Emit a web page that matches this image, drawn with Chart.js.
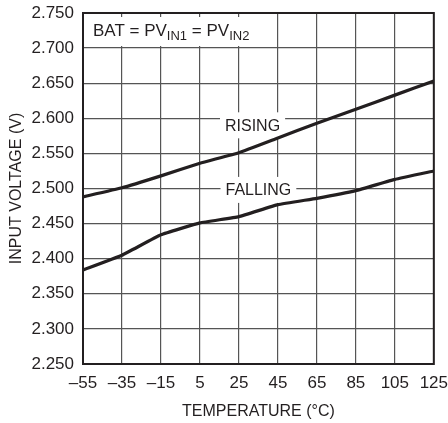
<!DOCTYPE html>
<html>
<head>
<meta charset="utf-8">
<script src="https://cdn.jsdelivr.net/npm/chart.js@4"></script>
<style>
  html, body { margin: 0; padding: 0; background: #fff; overflow: hidden; }
  #wrap { width: 448px; height: 423px; }
  canvas { display: block; }
</style>
</head>
<body>
<div id="wrap"><canvas id="c" width="448" height="423"></canvas></div>
<script>
// Input voltage thresholds vs temperature
const temps   = [-55, -35, -15, 5, 25, 45, 65, 85, 105, 125];
const rising  = [2.488, 2.501, 2.518, 2.536, 2.551, 2.572, 2.593, 2.613, 2.633, 2.653];
const falling = [2.384, 2.405, 2.434, 2.451, 2.460, 2.477, 2.486, 2.497, 2.513, 2.525];

const FONT = '"Liberation Sans", Arial, sans-serif';
const INK = '#231f20';

// curve labels, placed in data units
const curveLabels = [
  { text: 'RISING',  x: 32, y: 2.590 },
  { text: 'FALLING', x: 35, y: 2.498 }
];

const labelsPlugin = {
  id: 'labels',
  beforeDatasetsDraw(chart) {
    const { ctx, chartArea: a, scales: { x, y } } = chart;
    ctx.save();
    // condition box, top left
    ctx.fillStyle = '#fff';
    ctx.fillRect(a.left + 1, a.top + 4, 168, 29);
    ctx.fillStyle = INK;
    ctx.textBaseline = 'alphabetic';
    let px = a.left + 10, base = a.top + 23;
    const parts = [['BAT = PV', 17, 0], ['IN1', 13, 4], [' = PV', 17, 0], ['IN2', 13, 4]];
    parts.forEach(([t, sz, dy]) => {
      ctx.font = sz + 'px ' + FONT;
      ctx.fillText(t, px, base + dy);
      px += ctx.measureText(t).width;
    });
    // curve labels with white backing
    ctx.font = '16px ' + FONT;
    ctx.textAlign = 'center';
    ctx.textBaseline = 'middle';
    curveLabels.forEach(l => {
      const cx = x.getPixelForValue(l.x), cy = y.getPixelForValue(l.y);
      const w = ctx.measureText(l.text).width + 10;
      ctx.fillStyle = '#fff';
      ctx.fillRect(cx - w / 2, cy - 13, w, 26);
      ctx.fillStyle = INK;
      ctx.fillText(l.text, cx, cy + 1);
    });
    ctx.restore();
  },
  afterDatasetsDraw(chart) {
    const { ctx, chartArea: a } = chart;
    ctx.save();
    ctx.strokeStyle = INK;
    ctx.lineWidth = 2;
    ctx.strokeRect(a.left, a.top, a.right - a.left, a.bottom - a.top);
    ctx.restore();
  }
};

new Chart(document.getElementById('c'), {
  type: 'line',
  data: {
    datasets: [
      { label: 'RISING',  data: temps.map((t, i) => ({ x: t, y: rising[i] })) },
      { label: 'FALLING', data: temps.map((t, i) => ({ x: t, y: falling[i] })) }
    ]
  },
  options: {
    responsive: false,
    animation: false,
    events: [],
    layout: { padding: 0 },
    elements: {
      line: { borderColor: INK, borderWidth: 3.2, tension: 0.1 },
      point: { radius: 0 }
    },
    plugins: { legend: { display: false }, tooltip: { enabled: false } },
    scales: {
      x: {
        type: 'linear', min: -55, max: 125,
        afterFit: s => { s.height = 59; },
        afterBuildTicks: s => { s.ticks = temps.map(v => ({ value: v })); },
        grid: { color: '#555', lineWidth: 1.2, drawTicks: false },
        border: { display: false },
        // padding 0 keeps the right inset at half a label; lineHeight pushes labels down
        ticks: {
          color: INK, font: { family: FONT, size: 17, lineHeight: 2.3 }, padding: 0, maxRotation: 0,
          callback: v => (v < 0 ? '\u2013' + Math.abs(v) : String(v))
        },
        title: {
          display: true, text: 'TEMPERATURE (\u00b0C)', color: INK,
          font: { family: FONT, size: 16 }, padding: { top: 1, bottom: 2 }
        }
      },
      y: {
        type: 'linear', min: 2.25, max: 2.75,
        afterFit: s => { s.width = 83; },
        grid: { color: '#555', lineWidth: 1.2, drawTicks: false },
        border: { display: false },
        ticks: {
          stepSize: 0.05, color: INK, font: { family: FONT, size: 17, lineHeight: 0.47 }, padding: 9,
          callback: v => v.toFixed(3)
        },
        title: {
          display: true, text: 'INPUT VOLTAGE (V)', color: INK,
          font: { family: FONT, size: 16 }, padding: { top: 7, bottom: 0 }
        }
      }
    }
  },
  plugins: [labelsPlugin]
});
</script>
</body>
</html>
